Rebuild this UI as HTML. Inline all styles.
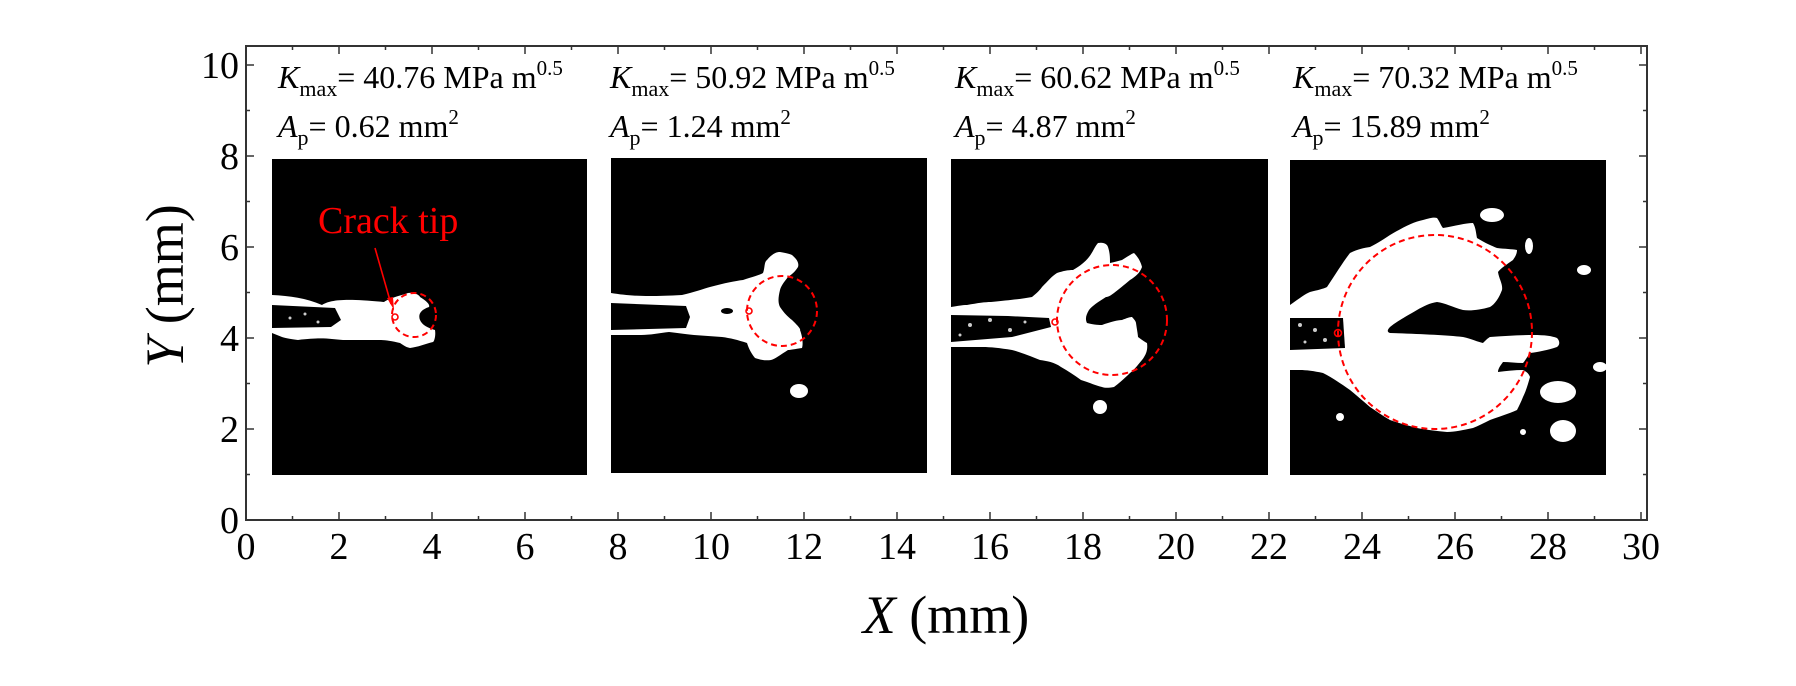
<!DOCTYPE html>
<html><head><meta charset="utf-8"><style>
html,body{margin:0;padding:0;background:#fff;}
svg{display:block;}
svg text{font-family:"Liberation Serif","Times New Roman",serif;}
</style></head><body>
<svg width="1796" height="686" viewBox="0 0 1796 686" xmlns="http://www.w3.org/2000/svg" font-family="Liberation Serif, serif">
<rect width="1796" height="686" fill="#fff"/>
<rect x="272" y="159" width="315" height="316" fill="#000"/>
<rect x="611" y="158" width="316" height="315" fill="#000"/>
<rect x="951" y="159" width="317" height="316" fill="#000"/>
<rect x="1290" y="160" width="316" height="315" fill="#000"/>
<g fill="#fff">
<path d="M272,295 C290,296 306,298 322,305 C330,300 343,298 384,302 C390,298 396,297 408,293 C416,292 420,296 420,297 C428,302 430,305 429,307 C420,310 418,315 420,320 C422,325 428,328 435,330 C436,336 434,342 433,342 C425,344 418,347 410,348 C405,347 402,344 400,343 C392,341 385,340 380,340 L343,340 C330,339 322,337 298,340 C290,339 285,338 282,337 L272,333 Z"/>
<path d="M611,293 C630,296 645,297 682,295 C695,292 703,289 710,287 C725,283 735,281 743,280 C752,277 760,275 763,273 C765,268 764,262 767,260 C772,254 776,252 780,252 C786,253 790,254 792,255 C798,260 799,264 798,267 C795,272 791,275 788,277 C784,282 781,286 780,290 C778,298 778,303 780,307 C784,313 788,317 792,320 C797,325 801,329 800,330 C803,338 803,345 802,348 C795,349 790,350 788,350 C780,355 775,359 771,360 C764,361 758,359 755,358 C750,352 748,346 747,343 C738,340 730,338 722,337 L694,335 C684,334 678,333 669,332 C660,333 650,335 641,335 L611,335 Z"/>
<ellipse cx="799" cy="391" rx="9" ry="7"/>
<path d="M951,307 C958,306 962,305 967,305 C978,303 985,302 991,302 C1010,300 1022,299 1032,297 C1037,293 1040,290 1042,287 C1048,281 1052,276 1057,273 C1063,271 1068,270 1073,270 C1080,266 1085,262 1089,257 C1093,252 1095,246 1098,243 C1104,242 1107,244 1108,247 C1110,253 1110,258 1110,263 C1115,262 1118,261 1122,260 C1127,257 1131,254 1134,253 C1139,258 1141,263 1142,267 C1140,273 1135,277 1130,280 C1124,285 1118,290 1114,293 C1110,296 1108,297 1106,297 C1098,302 1092,306 1089,310 C1086,315 1085,319 1087,323 C1094,325 1100,325 1102,325 C1110,322 1118,320 1122,320 C1127,318 1130,317 1132,317 C1135,320 1136,322 1136,323 C1137,330 1138,335 1138,337 C1142,340 1145,342 1147,343 C1148,350 1146,355 1142,360 C1137,366 1134,370 1130,373 C1124,379 1118,384 1114,387 C1108,388 1105,388 1102,387 C1094,385 1088,382 1081,380 C1074,375 1068,371 1061,367 C1054,362 1047,361 1040,360 C1030,356 1020,352 1012,350 C1000,348 990,347 983,347 L951,347 Z"/>
<ellipse cx="1100" cy="407" rx="7" ry="7"/>
<path d="M1290,305 C1300,298 1305,294 1310,292 C1318,290 1323,289 1327,287 C1335,275 1343,262 1350,253 C1358,249 1364,248 1370,247 C1378,243 1384,239 1390,235 C1402,228 1413,222 1423,220 C1430,218 1434,217 1437,218 C1440,222 1441,226 1443,228 C1455,226 1466,223 1473,223 C1476,228 1476,234 1477,238 C1485,243 1492,246 1497,248 C1505,249 1512,249 1517,250 C1517,254 1515,257 1513,260 C1506,265 1501,268 1498,272 C1499,279 1503,284 1502,290 C1499,298 1495,304 1490,307 C1480,310 1470,311 1463,310 C1452,307 1445,303 1437,302 C1430,303 1424,306 1417,310 C1405,317 1396,322 1390,327 C1387,330 1387,332 1390,333 C1420,334 1445,335 1463,337 C1472,339 1478,342 1483,343 C1486,340 1488,338 1490,337 C1505,336 1520,335 1533,335 C1545,335 1552,336 1557,338 C1560,341 1560,345 1557,347 C1548,350 1538,352 1530,353 C1527,357 1525,361 1523,363 C1516,363 1509,362 1503,362 C1500,366 1498,369 1498,372 C1506,371 1515,370 1523,370 C1527,372 1529,374 1530,377 C1528,384 1526,391 1523,397 C1521,402 1519,406 1517,410 C1508,414 1498,417 1490,420 C1484,423 1478,426 1473,428 C1463,430 1455,432 1447,432 C1437,431 1427,430 1417,428 C1407,425 1398,423 1390,420 C1383,416 1376,411 1370,407 C1363,401 1356,395 1350,390 C1340,383 1331,377 1323,373 C1314,371 1306,370 1300,370 L1290,370 Z"/>
<ellipse cx="1492" cy="215" rx="12" ry="7"/>
<ellipse cx="1529" cy="246" rx="4" ry="8"/>
<ellipse cx="1584" cy="270" rx="7" ry="5"/>
<ellipse cx="1600" cy="367" rx="7" ry="5"/>
<ellipse cx="1558" cy="392" rx="18" ry="11"/>
<ellipse cx="1563" cy="431" rx="13" ry="11"/>
<ellipse cx="1340" cy="417" rx="4" ry="4"/>
<ellipse cx="1523" cy="432" rx="3" ry="3"/>
</g>
<g fill="#000">
<path d="M272,305 L335,308 L341,320 L331,327 L272,328 Z"/>
<path d="M611,303 L686,306 L690,317 L686,328 L611,330 Z"/>
<ellipse cx="727" cy="311" rx="6" ry="3"/>
<path d="M951,315 L1008,316 L1049,318 L1051,327 L1012,337 L951,342 Z"/>
<path d="M1290,318 L1343,318 L1345,348 L1290,350 Z"/>
</g>
<g fill="#fff" opacity="0.8">
<circle cx="290" cy="318" r="1.5"/><circle cx="305" cy="314" r="1.5"/><circle cx="318" cy="322" r="1.5"/>
<circle cx="970" cy="325" r="2"/><circle cx="990" cy="320" r="2"/><circle cx="1010" cy="330" r="2"/><circle cx="1025" cy="322" r="1.5"/><circle cx="960" cy="335" r="1.5"/>
<circle cx="1300" cy="325" r="2"/><circle cx="1315" cy="330" r="2"/><circle cx="1325" cy="340" r="2"/><circle cx="1305" cy="342" r="1.5"/>
</g>
<g fill="none" stroke="#f00" stroke-width="2" stroke-dasharray="6,4">
<circle cx="414" cy="315" r="22"/>
<circle cx="782" cy="311" r="35"/>
<circle cx="1112" cy="320" r="55"/>
<circle cx="1435" cy="332" r="97"/>
</g>
<g fill="none" stroke="#f00" stroke-width="1.6">
<circle cx="395" cy="317" r="3"/>
<circle cx="749" cy="311" r="3"/>
<circle cx="1055" cy="322" r="3"/>
<circle cx="1338" cy="333" r="3.5"/>
<line x1="375" y1="248" x2="391" y2="304"/>
</g>
<path d="M394,310 L387,298 L393,297 Z" fill="#f00"/>
<text x="318" y="233" font-size="38" fill="#f00" font-family="Liberation Serif, serif">Crack tip</text>
<rect x="246" y="46" width="1401" height="474" fill="none" stroke="#333" stroke-width="2"/>
<g stroke="#333" stroke-width="1.5">
<path d="M246,520v-8M339,520v-8M432,520v-8M525,520v-8M618,520v-8M711,520v-8M804,520v-8M897,520v-8M990,520v-8M1083,520v-8M1176,520v-8M1269,520v-8M1362,520v-8M1455,520v-8M1548,520v-8M1641,520v-8"/>
<path d="M292.5,520v-4M385.5,520v-4M478.5,520v-4M571.5,520v-4M664.5,520v-4M757.5,520v-4M850.5,520v-4M943.5,520v-4M1036.5,520v-4M1129.5,520v-4M1222.5,520v-4M1315.5,520v-4M1408.5,520v-4M1501.5,520v-4M1594.5,520v-4"/>
<path d="M339,46v8M432,46v8M525,46v8M618,46v8M711,46v8M804,46v8M897,46v8M990,46v8M1083,46v8M1176,46v8M1269,46v8M1362,46v8M1455,46v8M1548,46v8M1641,46v8"/>
<path d="M292.5,46v4M385.5,46v4M478.5,46v4M571.5,46v4M664.5,46v4M757.5,46v4M850.5,46v4M943.5,46v4M1036.5,46v4M1129.5,46v4M1222.5,46v4M1315.5,46v4M1408.5,46v4M1501.5,46v4M1594.5,46v4"/>
<path d="M246,429h8M246,338h8M246,247h8M246,156h8M246,65h8M1647,429h-8M1647,338h-8M1647,247h-8M1647,156h-8M1647,65h-8"/>
<path d="M246,474.5h4M246,383.5h4M246,292.5h4M246,201.5h4M246,110.5h4M1647,474.5h-4M1647,383.5h-4M1647,292.5h-4M1647,201.5h-4M1647,110.5h-4"/>
</g>
<g font-size="38" text-anchor="middle" fill="#000" font-family="Liberation Serif, serif">
<text x="246" y="559">0</text><text x="339" y="559">2</text><text x="432" y="559">4</text><text x="525" y="559">6</text><text x="618" y="559">8</text><text x="711" y="559">10</text><text x="804" y="559">12</text><text x="897" y="559">14</text><text x="990" y="559">16</text><text x="1083" y="559">18</text><text x="1176" y="559">20</text><text x="1269" y="559">22</text><text x="1362" y="559">24</text><text x="1455" y="559">26</text><text x="1548" y="559">28</text><text x="1641" y="559">30</text>
</g>
<g font-size="38" text-anchor="end" fill="#000" font-family="Liberation Serif, serif">
<text x="239" y="533">0</text><text x="239" y="442">2</text><text x="239" y="351">4</text><text x="239" y="260">6</text><text x="239" y="169">8</text><text x="239" y="78">10</text>
</g>
<text x="946" y="633" font-size="54" text-anchor="middle" font-family="Liberation Serif, serif"><tspan font-style="italic">X</tspan> (mm)</text>
<text transform="translate(183,286) rotate(-90)" font-size="54" text-anchor="middle" font-family="Liberation Serif, serif"><tspan font-style="italic">Y</tspan> (mm)</text>
<g font-size="32" fill="#000" font-family="Liberation Serif, serif">
<text x="278" y="88"><tspan font-style="italic">K</tspan><tspan font-size="22" dy="8">max</tspan><tspan dy="-8">= 40.76 MPa m</tspan><tspan font-size="21" dy="-13">0.5</tspan></text>
<text x="278" y="137"><tspan font-style="italic">A</tspan><tspan font-size="22" dy="8">p</tspan><tspan dy="-8">= 0.62 mm</tspan><tspan font-size="21" dy="-13">2</tspan></text>
<text x="610" y="88"><tspan font-style="italic">K</tspan><tspan font-size="22" dy="8">max</tspan><tspan dy="-8">= 50.92 MPa m</tspan><tspan font-size="21" dy="-13">0.5</tspan></text>
<text x="610" y="137"><tspan font-style="italic">A</tspan><tspan font-size="22" dy="8">p</tspan><tspan dy="-8">= 1.24 mm</tspan><tspan font-size="21" dy="-13">2</tspan></text>
<text x="955" y="88"><tspan font-style="italic">K</tspan><tspan font-size="22" dy="8">max</tspan><tspan dy="-8">= 60.62 MPa m</tspan><tspan font-size="21" dy="-13">0.5</tspan></text>
<text x="955" y="137"><tspan font-style="italic">A</tspan><tspan font-size="22" dy="8">p</tspan><tspan dy="-8">= 4.87 mm</tspan><tspan font-size="21" dy="-13">2</tspan></text>
<text x="1293" y="88"><tspan font-style="italic">K</tspan><tspan font-size="22" dy="8">max</tspan><tspan dy="-8">= 70.32 MPa m</tspan><tspan font-size="21" dy="-13">0.5</tspan></text>
<text x="1293" y="137"><tspan font-style="italic">A</tspan><tspan font-size="22" dy="8">p</tspan><tspan dy="-8">= 15.89 mm</tspan><tspan font-size="21" dy="-13">2</tspan></text>
</g>
</svg>
</body></html>
